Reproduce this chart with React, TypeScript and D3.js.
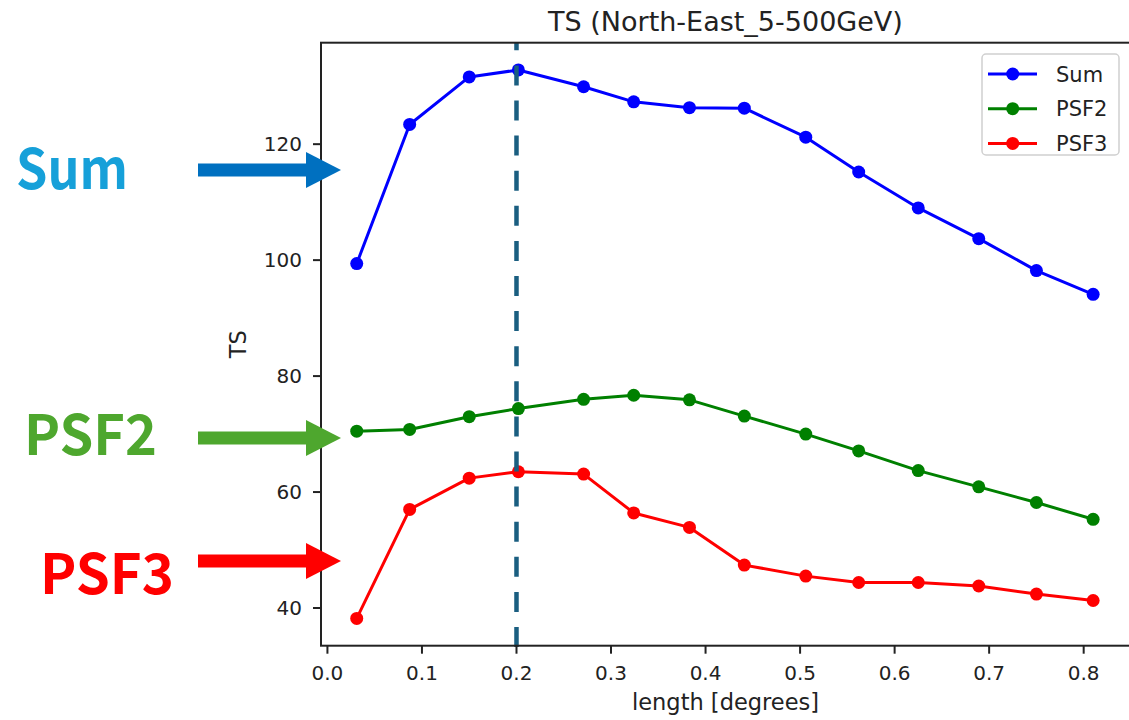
import React from "react";
import * as d3 from "d3";

const lengths = [0.031, 0.087, 0.150, 0.202, 0.271, 0.324, 0.383, 0.441, 0.506, 0.562, 0.625, 0.689, 0.750, 0.810];
const sumTS = [99.4, 123.4, 131.6, 132.8, 129.9, 127.3, 126.3, 126.2, 121.2, 115.2, 109.0, 103.7, 98.2, 94.1];
const psf2TS = [70.5, 70.8, 73.0, 74.4, 76.0, 76.7, 75.9, 73.1, 70.0, 67.1, 63.7, 60.9, 58.2, 55.3];
const psf3TS = [38.2, 57.0, 62.4, 63.5, 63.1, 56.4, 53.9, 47.4, 45.5, 44.4, 44.4, 43.8, 42.4, 41.3];
const seriesNames = ["Sum", "PSF2", "PSF3"];
const seriesColors = ["#0000ff", "#008000", "#ff0000"];
const xTicks = [0.0, 0.1, 0.2, 0.3, 0.4, 0.5, 0.6, 0.7, 0.8];
const yTicks = [40, 60, 80, 100, 120];
const vLineX = 0.2;
const title = "TS (North-East_5-500GeV)";
const xLabel = "length [degrees]";
const yLabel = "TS";

const annotations = [
  { label: "Sum", textColor: "#16a0d9", arrowColor: "#0070c0", tx: 16, ty: 189, tw: 112, ay: 170 },
  { label: "PSF2", textColor: "#4ea72e", arrowColor: "#4ea72e", tx: 24, ty: 455, tw: 133, ay: 438 },
  { label: "PSF3", textColor: "#ff0000", arrowColor: "#ff0000", tx: 40, ty: 594, tw: 134, ay: 561 },
];

const W = 1129;
const H = 720;
const L = 321, R = 1130, T = 42.7, B = 645.7;

export default function App() {
  const x = d3.scaleLinear().domain([-0.0068, 0.849]).range([L, R]);
  const y = d3.scaleLinear().domain([33.5, 137.5]).range([B, T]);
  const data = [sumTS, psf2TS, psf3TS];
  const line = d3
    .line<number>()
    .x((_, i) => x(lengths[i]))
    .y((d) => y(d));
  const font = "'DejaVu Sans', sans-serif";

  return (
    <div style={{ position: "absolute", left: 0, top: 0, width: W, height: H, background: "#fff" }}>
      <svg width={W} height={H} style={{ display: "block" }} fontFamily={font}>
        <rect x={0} y={0} width={W} height={H} fill="#fff" />
        {/* title */}
        <text x={(L + R) / 2} y={31} textAnchor="middle" fontSize={27} fill="#222">
          {title}
        </text>
        {/* data */}
        <g>
          {data.map((vals, si) => (
            <g key={si}>
              <path d={line(vals) || ""} fill="none" stroke={seriesColors[si]} strokeWidth={3} strokeLinejoin="round" />
              {vals.map((v, i) => (
                <circle key={i} cx={x(lengths[i])} cy={y(v)} r={6.5} fill={seriesColors[si]} />
              ))}
            </g>
          ))}
        </g>
        {/* vertical dashed line */}
        <line
          x1={x(vLineX)}
          x2={x(vLineX)}
          y1={B + 1.3}
          y2={T}
          stroke="#1a5e80"
          strokeWidth={4.5}
          strokeDasharray="20 15.1"
        />
        {/* spines */}
        <rect x={L} y={T} width={R - L} height={B - T} fill="none" stroke="#222" strokeWidth={2} />
        {/* x ticks */}
        {xTicks.map((t) => (
          <g key={t}>
            <line x1={x(t)} x2={x(t)} y1={B} y2={B + 8} stroke="#222" strokeWidth={2} />
            <text x={x(t)} y={680} textAnchor="middle" fontSize={20} fill="#222">
              {t.toFixed(1)}
            </text>
          </g>
        ))}
        {/* y ticks */}
        {yTicks.map((t) => (
          <g key={t}>
            <line x1={L - 8} x2={L} y1={y(t)} y2={y(t)} stroke="#222" strokeWidth={2} />
            <text x={302} y={y(t)} dy="0.36em" textAnchor="end" fontSize={20} fill="#222">
              {t}
            </text>
          </g>
        ))}
        <text x={(L + R) / 2} y={710} textAnchor="middle" fontSize={22.5} fill="#222">
          {xLabel}
        </text>
        <text
          transform={`translate(246, ${(T + B) / 2}) rotate(-90)`}
          textAnchor="middle"
          fontSize={22.5}
          fill="#222"
        >
          {yLabel}
        </text>
        {/* legend */}
        <g>
          <rect x={982} y={54} width={137} height={101} rx={4} fill="#fff" fillOpacity={0.8} stroke="#d0d0d0" strokeWidth={1.5} />
          {seriesNames.map((n, i) => {
            const cy = 74 + i * 34.7;
            return (
              <g key={n}>
                <line x1={988} x2={1037} y1={cy} y2={cy} stroke={seriesColors[i]} strokeWidth={3} />
                <circle cx={1012.7} cy={cy} r={6.5} fill={seriesColors[i]} />
                <text x={1056} y={cy} dy="0.36em" fontSize={21} fill="#222">
                  {n}
                </text>
              </g>
            );
          })}
        </g>
        {/* annotations */}
        {annotations.map((a) => (
          <g key={a.label}>
            <text
              x={a.tx}
              y={a.ty}
              fontFamily="'Noto Sans CJK JP', 'Noto Sans', sans-serif"
              fontWeight={700}
              fontSize={56}
              fill={a.textColor}
              textLength={a.tw}
              lengthAdjust="spacingAndGlyphs"
            >
              {a.label}
            </text>
            <rect x={198} y={a.ay - 6.5} width={110} height={13} fill={a.arrowColor} />
            <path
              d={`M306,${a.ay - 18} L341,${a.ay} L306,${a.ay + 18} Z`}
              fill={a.arrowColor}
            />
          </g>
        ))}
      </svg>
    </div>
  );
}
